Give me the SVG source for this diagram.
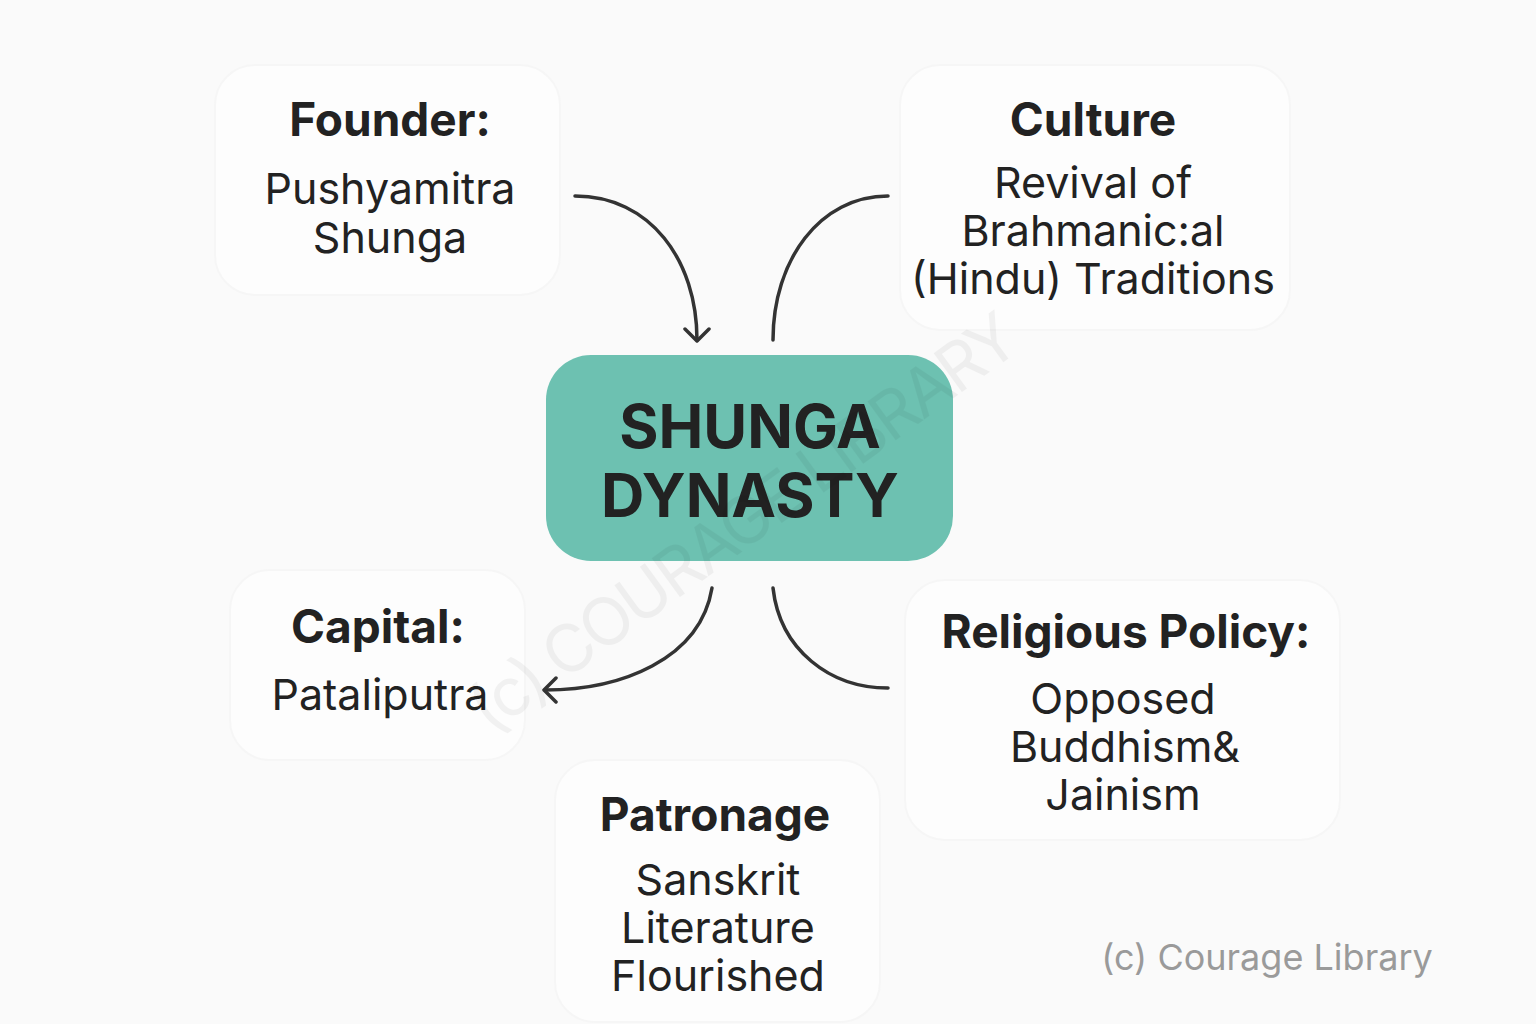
<svg xmlns="http://www.w3.org/2000/svg" width="1536" height="1024" viewBox="0 0 1536 1024">
<style>
.card{fill:#fdfdfd;stroke:#f6f6f6;stroke-width:2}
.t{font-family:Inter,"Liberation Sans",sans-serif;fill:#222;text-anchor:middle}
.h{font-size:46px;font-weight:700}
.b{font-size:43px}
.c{fill:none;stroke:#333;stroke-width:3.5;stroke-linecap:round}
</style>
<defs>
<marker id="ar" markerWidth="24" markerHeight="28" refX="13" refY="14" orient="auto" markerUnits="userSpaceOnUse" viewBox="0 0 24 28"><path d="M2,2 L14,14 L2,26" fill="none" stroke="#333" stroke-width="3.5" stroke-linecap="round" stroke-linejoin="round"/></marker>
</defs>
<rect width="1536" height="1024" fill="#fafafa"/>
<g id="founder"><rect class="card" x="215" y="65" width="345" height="230" rx="40"/>
<text class="t h" x="390" y="136">Founder:</text>
<text class="t b" x="390" y="204">Pushyamitra</text><text class="t b" x="390" y="253">Shunga</text></g>
<g id="culture"><rect class="card" x="900" y="65" width="390" height="265" rx="40"/>
<text class="t h" x="1093" y="136">Culture</text>
<text class="t b" x="1093" y="198">Revival of</text><text class="t b" x="1093" y="246">Brahmanic:al</text><text class="t b" x="1093" y="294">(Hindu) Traditions</text></g>
<g id="capital"><rect class="card" x="230" y="570" width="295" height="190" rx="40"/>
<text class="t h" x="378" y="643">Capital:</text>
<text class="t b" x="380" y="710">Pataliputra</text></g>
<g id="religious"><rect class="card" x="905" y="580" width="435" height="260" rx="40"/>
<text class="t h" x="1126" y="648">Religious Policy:</text>
<text class="t b" x="1123" y="714">Opposed</text><text class="t b" x="1125" y="762">Buddhism&amp;</text><text class="t b" x="1123" y="810">Jainism</text></g>
<g id="patronage"><rect class="card" x="555" y="760" width="325" height="262" rx="40"/>
<text class="t h" x="715" y="831">Patronage</text>
<text class="t b" x="718" y="895">Sanskrit</text><text class="t b" x="718" y="943">Literature</text><text class="t b" x="718" y="991">Flourished</text></g>
<g id="center"><rect x="546" y="355" width="407" height="206" rx="45" fill="#6dc1b1"/>
<text class="t" x="750" y="448" font-size="60" font-weight="700">SHUNGA</text>
<text class="t" x="750" y="517" font-size="60" font-weight="700">DYNASTY</text></g>
<g id="connectors">
<path class="c" d="M575,196 C650,196 697,260 697,340" marker-end="url(#ar)"/>
<path class="c" d="M888,196 C820,196 773,260 773,340"/>
<path class="c" d="M712,588 C700,660 620,690 545,690" marker-end="url(#ar)"/>
<path class="c" d="M773,588 C780,650 830,688 888,688"/>
</g>
<text x="490" y="735" transform="rotate(-36 490 735)" font-family="Inter,'Liberation Sans',sans-serif" font-size="66" fill="#000" opacity="0.045" textLength="660">(c) COURAGE LIBRARY</text>
<text x="1267" y="970" font-family="Inter,'Liberation Sans',sans-serif" font-size="36" fill="#9a9a9a" text-anchor="middle">(c) Courage Library</text>
</svg>
